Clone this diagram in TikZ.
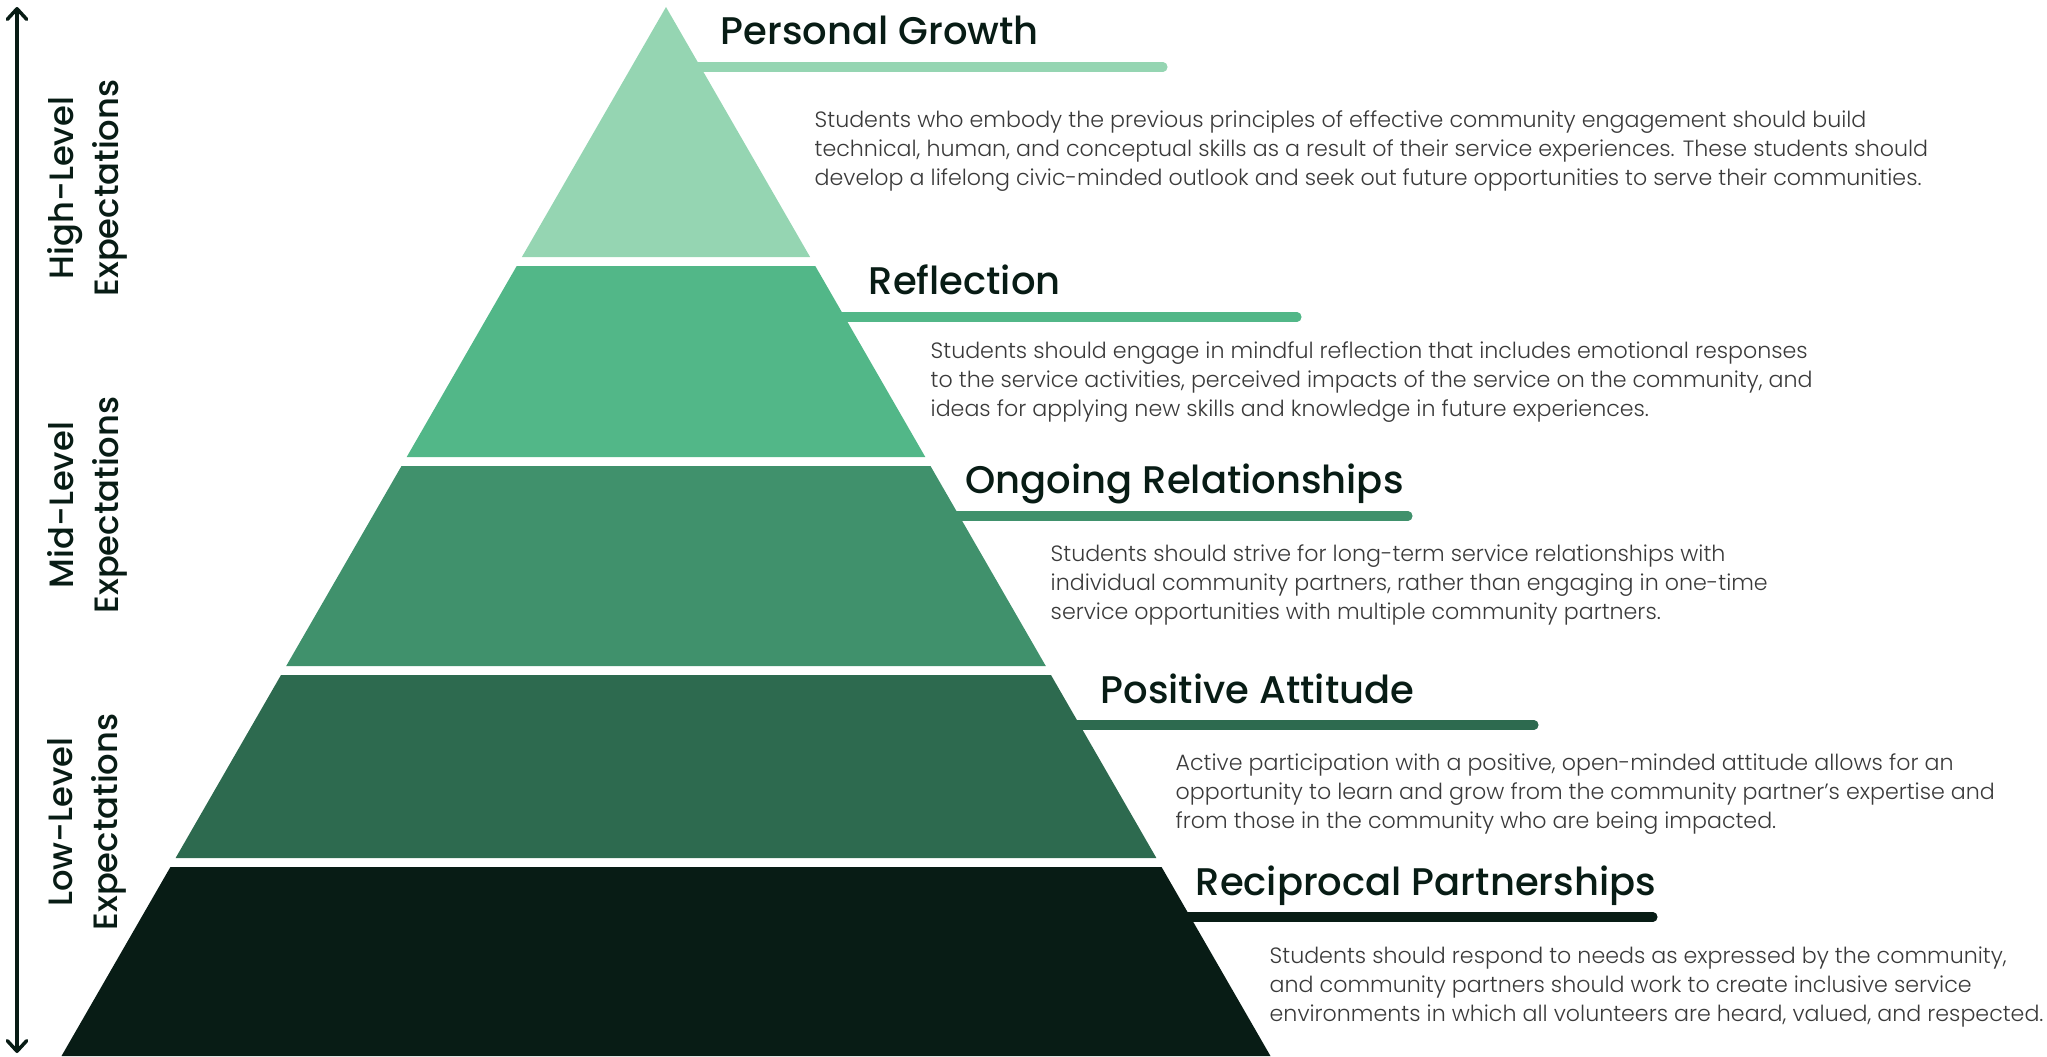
\documentclass[tikz,border=0pt]{standalone}
\usepackage{fontspec}
\setmainfont{Poppins}
\IfFontExistsTF{Poppins Light}{\newfontfamily\bodyfont{Poppins Light}}{\newfontfamily\bodyfont{Poppins}}
\IfFontExistsTF{Poppins Medium}{\newfontfamily\headfont{Poppins Medium}}{\newfontfamily\headfont{Poppins}[FakeBold=1]}
\usetikzlibrary{arrows.meta}

\definecolor{mint}{HTML}{95D5B2}
\definecolor{leaf}{HTML}{52B788}
\definecolor{fern}{HTML}{40916C}
\definecolor{pine}{HTML}{2D6A4F}
\definecolor{forest}{HTML}{081C15}
\definecolor{bodygray}{HTML}{3A3A3A}

\tikzset{
  ledge/.style={line width=2.6pt, line cap=round},
  heading/.style={anchor=base west, inner sep=0pt, text=forest, font=\headfont\fontsize{10.95}{12}\selectfont},
  blurb/.style={anchor=base west, inner sep=0pt, align=left, text=bodygray, font=\bodyfont\fontsize{6.3}{8.2}\selectfont},
  sidelabel/.style={rotate=90, align=center, inner sep=0pt, text=forest, font=\headfont\fontsize{9.6}{12.8}\selectfont},
  axis/.style={draw=forest, line width=1pt, >={Straight Barb[length=3pt, width=5.5pt, round]}, <->}
}

\begin{document}
\begin{tikzpicture}[x=0.01cm, y=-0.01cm]
    \useasboundingbox (0,0) rectangle (2047,1056);

    \coordinate (pgL) at (694,67);   \coordinate (pgR) at (1163,67);
    \coordinate (rfL) at (838,317);  \coordinate (rfR) at (1297,317);
    \coordinate (orL) at (953,516);  \coordinate (orR) at (1408,516);
    \coordinate (paL) at (1074,725); \coordinate (paR) at (1534,725);
    \coordinate (rpL) at (1184,917); \coordinate (rpR) at (1653,917);

    \draw[ledge, mint] (pgL) -- (pgR);
    \draw[ledge, leaf] (rfL) -- (rfR);
    \draw[ledge, fern] (orL) -- (orR);
    \draw[ledge, pine] (paL) -- (paR);
    \draw[ledge, forest] (rpL) -- (rpR);

    \fill[mint] (666,7) -- (810.1,257) -- (521.9,257) -- cycle;
    \fill[leaf] (516.7,266) -- (815.3,266) -- (925.3,457) -- (406.7,457) -- cycle;
    \fill[fern] (401.5,466) -- (930.5,466) -- (1045.8,666) -- (286.2,666) -- cycle;
    \fill[pine] (281,675) -- (1051,675) -- (1156.4,858) -- (175.6,858) -- cycle;
    \fill[forest] (170.4,867) -- (1161.6,867) -- (1270.5,1056) -- (61.5,1056) -- cycle;

    \node[heading] (pgH) at (720,44) {Personal Growth};
    \node[heading] (rfH) at (868,294) {Reflection};
    \node[heading] (orH) at (965,493) {Ongoing Relationships};
    \node[heading] (paH) at (1100,703) {Positive Attitude};
    \node[heading] (rpH) at (1195,895) {Reciprocal Partnerships};

    \node[blurb] (pgT) at (814,185) {Students who embody the previous principles of effective community engagement should build\\technical, human, and conceptual skills as a result of their service experiences. These students should\\develop a lifelong civic-minded outlook and seek out future opportunities to serve their communities.};
    \node[blurb] (rfT) at (930,416) {Students should engage in mindful reflection that includes emotional responses\\to the service activities, perceived impacts of the service on the community, and\\ideas for applying new skills and knowledge in future experiences.};
    \node[blurb] (orT) at (1050,619) {Students should strive for long-term service relationships with\\individual community partners, rather than engaging in one-time\\service opportunities with multiple community partners.};
    \node[blurb] (paT) at (1175,828) {Active participation with a positive, open-minded attitude allows for an\\opportunity to learn and grow from the community partner’s expertise and\\from those in the community who are being impacted.};
    \node[blurb] (rpT) at (1269,1021) {Students should respond to needs as expressed by the community,\\and community partners should work to create inclusive service\\environments in which all volunteers are heard, valued, and respected.};

    \node[sidelabel] (hiLab) at (87,188) {High-Level\\Expectations};
    \node[sidelabel] (midLab) at (87,505) {Mid-Level\\Expectations};
    \node[sidelabel] (lowLab) at (87,822) {Low-Level\\Expectations};

    \coordinate (upEnd) at (17,7);
    \coordinate (downEnd) at (17,1053);
    \draw[axis] (downEnd) -- (upEnd);
\end{tikzpicture}
\end{document}
